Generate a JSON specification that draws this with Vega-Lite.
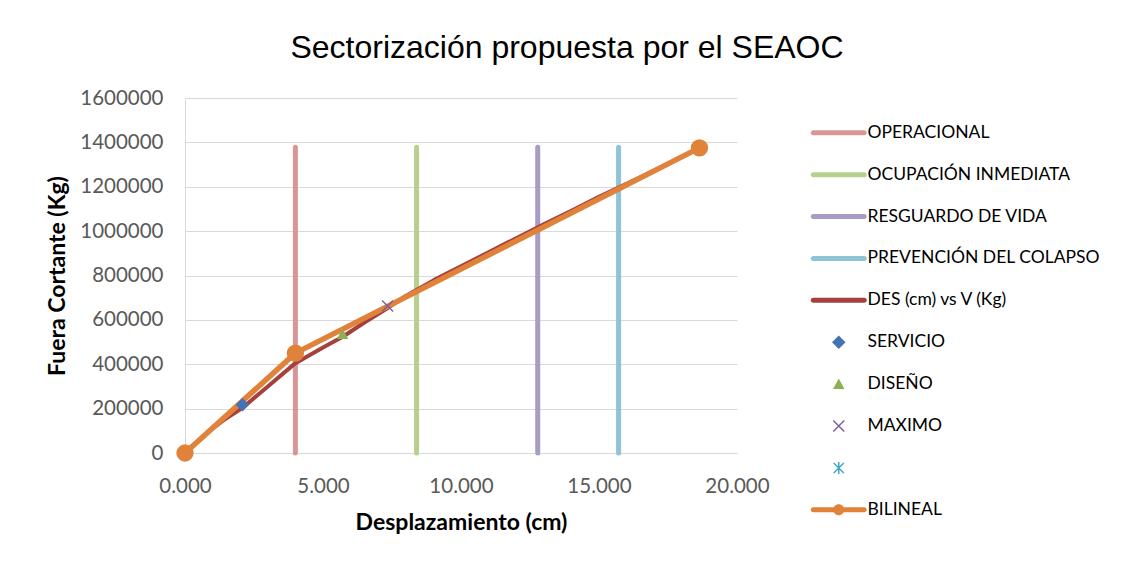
{
  "$schema": "https://vega.github.io/schema/vega-lite/v6.json",
  "width": 552,
  "height": 355,
  "autosize": {"type": "none"},
  "padding": {"left": 185, "top": 98, "right": 395, "bottom": 115},
  "background": "white",
  "title": {
    "text": "Sectorización propuesta por el SEAOC",
    "font": "Liberation Sans",
    "fontSize": 32,
    "fontWeight": "normal",
    "color": "#000000",
    "anchor": "middle",
    "frame": "group",
    "dx": 106,
    "dy": 3,
    "baseline": "bottom",
    "offset": -6
  },
  "datasets": {
    "vlines": [
      {"serie": "OPERACIONAL", "des": 4.0, "v": 0},
      {"serie": "OPERACIONAL", "des": 4.0, "v": 1378000},
      {"serie": "OCUPACIÓN INMEDIATA", "des": 8.39, "v": 0},
      {"serie": "OCUPACIÓN INMEDIATA", "des": 8.39, "v": 1378000},
      {"serie": "RESGUARDO DE VIDA", "des": 12.78, "v": 0},
      {"serie": "RESGUARDO DE VIDA", "des": 12.78, "v": 1378000},
      {"serie": "PREVENCIÓN DEL COLAPSO", "des": 15.71, "v": 0},
      {"serie": "PREVENCIÓN DEL COLAPSO", "des": 15.71, "v": 1378000}
    ],
    "curve": [
      {"des": 0, "v": 0},
      {"des": 0.5, "v": 55000},
      {"des": 0.8, "v": 92000},
      {"des": 1.4, "v": 148000},
      {"des": 2.1, "v": 205000},
      {"des": 3.0, "v": 300000},
      {"des": 4.0, "v": 405000},
      {"des": 5.0, "v": 475000},
      {"des": 5.73, "v": 525000},
      {"des": 6.5, "v": 588000},
      {"des": 7.3, "v": 650000},
      {"des": 8.0, "v": 708000},
      {"des": 9.0, "v": 778000},
      {"des": 10.0, "v": 841000},
      {"des": 11.0, "v": 905000},
      {"des": 12.0, "v": 968000},
      {"des": 13.0, "v": 1031000},
      {"des": 14.0, "v": 1092000},
      {"des": 15.0, "v": 1155000},
      {"des": 16.0, "v": 1213000},
      {"des": 17.0, "v": 1273000},
      {"des": 18.64, "v": 1375000}
    ],
    "bilineal": [
      {"des": 0, "v": 0},
      {"des": 4.0, "v": 450000},
      {"des": 18.64, "v": 1375000}
    ],
    "puntos": [
      {"serie": "SERVICIO", "des": 2.08, "v": 217000},
      {"serie": "DISEÑO", "des": 5.71, "v": 535000},
      {"serie": "MAXIMO", "des": 7.34, "v": 663000}
    ]
  },
  "encoding": {
    "x": {
      "field": "des", "type": "quantitative",
      "scale": {"domain": [0, 20], "nice": false, "zero": false},
      "axis": {
        "title": "Desplazamiento (cm)",
        "values": [0, 5, 10, 15, 20],
        "format": ".3f",
        "grid": false,
        "ticks": false,
        "labelFlush": false,
        "domainColor": "#d9d9d9",
        "domainWidth": 1,
        "labelPadding": 23,
        "titlePadding": 15
      }
    },
    "y": {
      "field": "v", "type": "quantitative",
      "scale": {"domain": [0, 1600000], "nice": false},
      "axis": {
        "title": "Fuera Cortante (Kg)",
        "values": [0, 200000, 400000, 600000, 800000, 1000000, 1200000, 1400000, 1600000],
        "format": "d",
        "grid": true,
        "gridColor": "#d9d9d9",
        "gridWidth": 1,
        "ticks": false,
        "labelFlush": false,
        "domainColor": "#d9d9d9",
        "domainWidth": 1,
        "labelPadding": 22,
        "titlePadding": 10
      }
    }
  },
  "layer": [
    {
      "data": {"name": "vlines"},
      "mark": {"type": "line", "strokeWidth": 5, "strokeCap": "round"},
      "encoding": {
        "order": {"field": "v", "type": "quantitative"},
        "stroke": {
          "field": "serie", "type": "nominal",
          "scale": {
            "domain": ["OPERACIONAL", "OCUPACIÓN INMEDIATA", "RESGUARDO DE VIDA", "PREVENCIÓN DEL COLAPSO"],
            "range": ["#d99694", "#b7d08e", "#a99bc3", "#8fc3d6"]
          },
          "legend": null
        }
      }
    },
    {
      "data": {"name": "curve"},
      "mark": {"type": "line", "strokeWidth": 4, "color": "#a5403d", "strokeJoin": "round"},
      "encoding": {}
    },
    {
      "data": {"name": "bilineal"},
      "mark": {"type": "line", "strokeWidth": 5.5, "color": "#e0823a", "strokeJoin": "round"},
      "encoding": {}
    },
    {
      "data": {"name": "bilineal"},
      "mark": {"type": "point", "shape": "circle", "filled": true, "size": 300, "opacity": 1, "color": "#e0823a"},
      "encoding": {}
    },
    {
      "data": {"name": "puntos"},
      "mark": {"type": "point", "filled": true, "size": 100, "opacity": 1},
      "encoding": {
        "color": {
          "field": "serie", "type": "nominal",
          "scale": {
            "domain": ["OPERACIONAL", "OCUPACIÓN INMEDIATA", "RESGUARDO DE VIDA", "PREVENCIÓN DEL COLAPSO", "DES (cm) vs V (Kg)", "SERVICIO", "DISEÑO", "MAXIMO", " ", "BILINEAL"],
            "range": ["#d99694", "#b7d08e", "#a99bc3", "#8fc3d6", "#a5403d", "#4373b5", "#8db150", "#7d5ca3", "#3ca6c2", "#e0823a"]
          },
          "legend": {
            "title": null,
            "orient": "none",
            "legendX": 615,
            "legendY": 26,
            "padding": 0,
            "symbolSize": 100,
            "symbolOffset": 30,
            "labelOffset": 20,
            "rowPadding": 22.9,
            "labelFont": "Lato",
            "labelFontSize": 17.5,
            "labelColor": "#000000",
            "labelLimit": 400,
            "symbolOpacity": 1
          }
        },
        "shape": {
          "field": "serie", "type": "nominal",
          "scale": {
            "domain": ["OPERACIONAL", "OCUPACIÓN INMEDIATA", "RESGUARDO DE VIDA", "PREVENCIÓN DEL COLAPSO", "DES (cm) vs V (Kg)", "SERVICIO", "DISEÑO", "MAXIMO", " ", "BILINEAL"],
            "range": [
              "M-5.1,-0.5H5.1A0.5,0.5 0 0,1 5.1,0.5H-5.1A0.5,0.5 0 0,1 -5.1,-0.5Z",
              "M-5.1,-0.5H5.1A0.5,0.5 0 0,1 5.1,0.5H-5.1A0.5,0.5 0 0,1 -5.1,-0.5Z",
              "M-5.1,-0.5H5.1A0.5,0.5 0 0,1 5.1,0.5H-5.1A0.5,0.5 0 0,1 -5.1,-0.5Z",
              "M-5.1,-0.5H5.1A0.5,0.5 0 0,1 5.1,0.5H-5.1A0.5,0.5 0 0,1 -5.1,-0.5Z",
              "M-5.1,-0.5H5.1A0.5,0.5 0 0,1 5.1,0.5H-5.1A0.5,0.5 0 0,1 -5.1,-0.5Z",
              "M0,-1.35L1.35,0L0,1.35L-1.35,0Z",
              "M0,-1.15L1.15,0.95L-1.15,0.95Z",
              "M-1.2,-1.0L-1.0,-1.2L1.2,1.0L1.0,1.2Z M1.0,-1.2L1.2,-1.0L-1.0,1.2L-1.2,1.0Z",
              "M-1.1,-0.9L-0.9,-1.1L1.1,0.9L0.9,1.1Z M0.9,-1.1L1.1,-0.9L-0.9,1.1L-1.1,0.9Z M-0.15,-1.2H0.15V1.2H-0.15Z",
              "M-5.1,-0.5H5.1A0.5,0.5 0 0,1 5.1,0.5H-5.1A0.5,0.5 0 0,1 -5.1,-0.5Z M1.1,0A1.1,1.1 0 1,1 -1.1,0A1.1,1.1 0 1,1 1.1,0Z"
            ]
          },
          "legend": {
            "title": null,
            "orient": "none",
            "legendX": 615,
            "legendY": 26,
            "padding": 0,
            "symbolSize": 100,
            "symbolOffset": 30,
            "labelOffset": 20,
            "rowPadding": 22.9,
            "labelFont": "Lato",
            "labelFontSize": 17.5,
            "labelColor": "#000000",
            "labelLimit": 400,
            "symbolOpacity": 1
          }
        }
      }
    }
  ],
  "config": {
    "view": {"stroke": null},
    "axis": {
      "labelFont": "Lato",
      "labelFontSize": 20.5,
      "labelColor": "#595959",
      "titleFont": "Lato",
      "titleFontSize": 23,
      "titleFontWeight": "bold",
      "titleColor": "#000000"
    },
    "legend": {"symbolStrokeWidth": 0}
  }
}
